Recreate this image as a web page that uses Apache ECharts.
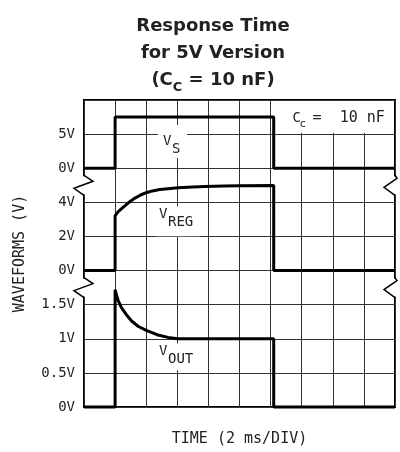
<!DOCTYPE html>
<html>
<head>
<meta charset="utf-8">
<script src="https://cdn.jsdelivr.net/npm/echarts@6/dist/echarts.min.js"></script>
<style>
  html, body { margin: 0; padding: 0; background: #fff; }
  #chart { width: 400px; height: 452px; }
</style>
</head>
<body>
<div id="chart"></div>
<script>
// 纵轴刻度 (每格一个, 自下而上)
const yTickLabels = ['0V', '0.5V', '1V', '1.5V', '0V', '2V', '4V', '0V', '5V', ''];

// 三段波形: 零点所在格, 每格伏数
const vsOffset = 7, vsPerDiv = 5;
const vregOffset = 4, vregPerDiv = 2;
const voutOffset = 0, voutPerDiv = 0.5;

// 时间单位是格 (2 ms/DIV)
const vsTime = [0, 1, 1, 6.1, 6.1, 10];
const vsVolts = [0, 0, 7.5, 7.5, 0, 0];

const vregTime = [0, 1, 1, 1.1, 1.2, 1.32, 1.48, 1.64, 1.82, 2.02, 2.2, 2.44, 2.7, 3.02, 3.5, 3.89, 4.5, 5, 6.1, 6.1, 10];
const vregVolts = [0, 0, 3.2, 3.45, 3.62, 3.81, 4.05, 4.25, 4.43, 4.58, 4.67, 4.75, 4.8, 4.85, 4.9, 4.93, 4.96, 4.97, 4.98, 0, 0];

const voutTime = [0, 1, 1, 1.05, 1.1, 1.2, 1.35, 1.53, 1.75, 2.02, 2.35, 2.7, 3.02, 6.1, 6.1, 10];
const voutVolts = [0, 0, 1.72, 1.63, 1.56, 1.46, 1.36, 1.26, 1.18, 1.12, 1.06, 1.02, 1.0, 1.0, 0, 0];

// 曲线名 (主字 + 下标)
const curveNames = [['V', 'S'], ['V', 'REG'], ['V', 'OUT']];

const chart = echarts.init(document.getElementById('chart'));
const mono = '"DejaVu Sans Mono", monospace';
const ink = '#222';

// 伏 -> 格
function toUnits(time, volts, offset, perDiv) {
  return time.map((t, i) => [t, offset + volts[i] / perDiv]);
}

function trace(name, data) {
  return {
    name: name,
    type: 'line',
    data: data,
    symbol: 'none',
    clip: false,
    lineStyle: { color: '#000', width: 3 },
    z: 5
  };
}

let option = {
  animation: false,
  backgroundColor: '#fff',
  title: {
    text: 'Response Time\nfor 5V Version\n(C{sub|C} = 10 nF)',
    left: 208,
    top: 8,
    textAlign: 'center',
    textStyle: {
      fontFamily: 'DejaVu Sans',
      fontWeight: 'bold',
      fontSize: 18,
      lineHeight: 27,
      color: ink,
      rich: {
        sub: {
          fontFamily: 'DejaVu Sans',
          fontWeight: 'bold',
          fontSize: 13,
          lineHeight: 14,
          verticalAlign: 'bottom',
          color: ink
        }
      }
    }
  },
  grid: {
    left: 84,
    right: 5,
    top: 100,
    bottom: 42,
    show: true,
    borderColor: '#000',
    borderWidth: 2
  },
  xAxis: {
    type: 'value',
    min: 0,
    max: 10,
    interval: 1,
    name: 'TIME (2 ms/DIV)',
    nameLocation: 'middle',
    nameGap: 25,
    nameTextStyle: { fontFamily: mono, fontSize: 15, color: ink },
    axisLine: { show: false },
    axisTick: { show: false },
    axisLabel: { show: false },
    splitLine: { lineStyle: { color: '#333', width: 1 } }
  },
  yAxis: {
    type: 'value',
    min: 0,
    max: 9,
    interval: 1,
    name: 'WAVEFORMS (V)',
    nameLocation: 'middle',
    nameGap: 56,
    nameTextStyle: { fontFamily: mono, fontSize: 15, color: ink },
    axisLine: { show: false },
    axisTick: { show: false },
    axisLabel: {
      margin: 9,
      fontFamily: mono,
      fontSize: 14,
      color: ink,
      formatter: v => yTickLabels[Math.round(v)]
    },
    splitLine: { lineStyle: { color: '#333', width: 1 } }
  },
  series: [
    trace('VS', toUnits(vsTime, vsVolts, vsOffset, vsPerDiv)),
    trace('VREG', toUnits(vregTime, vregVolts, vregOffset, vregPerDiv)),
    trace('VOUT', toUnits(voutTime, voutVolts, voutOffset, voutPerDiv))
  ]
};
chart.setOption(option);

// 以下是装饰: 断裂记号, 曲线名, Cc 标注
const px = p => chart.convertToPixel({ gridIndex: 0 }, p);
const g = [];

function breakMark(yUnit) {
  const l = px([0, yUnit]);
  const r = px([10, yUnit]);
  g.push({ type: 'rect', shape: { x: l[0] - 2, y: l[1] - 9, width: 4, height: 18 }, style: { fill: '#fff' }, z: 20 });
  g.push({ type: 'rect', shape: { x: r[0] - 2, y: r[1] - 9, width: 4, height: 18 }, style: { fill: '#fff' }, z: 20 });
  g.push({
    type: 'polyline',
    shape: { points: [[l[0], l[1] - 10], [l[0] + 9, l[1] - 4], [l[0] - 10, l[1] + 3], [l[0], l[1] + 10]] },
    style: { stroke: '#000', lineWidth: 1.5, fill: null },
    z: 21
  });
  g.push({
    type: 'polyline',
    shape: { points: [[r[0], r[1] - 10], [r[0] + 2, r[1] - 7], [r[0] - 11, r[1] + 2], [r[0], r[1] + 10]] },
    style: { stroke: '#000', lineWidth: 1.5, fill: null },
    z: 21
  });
}
breakMark(6.5);
breakMark(3.5);

// 白底盖住网格线, 但在曲线之下
function nameLabel(name, at, box) {
  const p = px(at);
  g.push({ type: 'rect', shape: { x: p[0] + box[0], y: p[1] + box[1], width: box[2], height: box[3] }, style: { fill: '#fff' }, z: 3 });
  g.push({ type: 'text', x: p[0], y: p[1], style: { text: name[0], fontFamily: mono, fontSize: 14, fill: ink, align: 'left', verticalAlign: 'middle' }, z: 4 });
  g.push({ type: 'text', x: p[0] + 9, y: p[1] + 8, style: { text: name[1], fontFamily: mono, fontSize: 14, fill: ink, align: 'left', verticalAlign: 'middle' }, z: 4 });
}
nameLabel(curveNames[0], [2.54, 7.8], [-5, -16, 29, 33]);
nameLabel(curveNames[1], [2.41, 5.65], [-3, -8, 44, 30]);
nameLabel(curveNames[2], [2.41, 1.63], [-3, -8, 44, 27]);

// 右上角 Cc 标注框
const c0 = px([6, 9]);
const c1 = px([10, 8]);
g.push({ type: 'rect', shape: { x: c0[0] + 1, y: c0[1] + 1, width: c1[0] - c0[0] - 2, height: c1[1] - c0[1] - 2 }, style: { fill: '#fff' }, z: 3 });
g.push({ type: 'text', x: c0[0] + 22, y: c0[1] + 18, style: { text: 'C', fontFamily: mono, fontSize: 14, fill: ink, verticalAlign: 'middle' }, z: 4 });
g.push({ type: 'text', x: c0[0] + 29, y: c0[1] + 24, style: { text: 'c', fontFamily: mono, fontSize: 11, fill: ink, verticalAlign: 'middle' }, z: 4 });
g.push({ type: 'text', x: c0[0] + 42, y: c0[1] + 18, style: { text: '=  10 nF', fontFamily: mono, fontSize: 15, fill: ink, verticalAlign: 'middle' }, z: 4 });

chart.setOption({ graphic: g });
</script>
</body>
</html>
